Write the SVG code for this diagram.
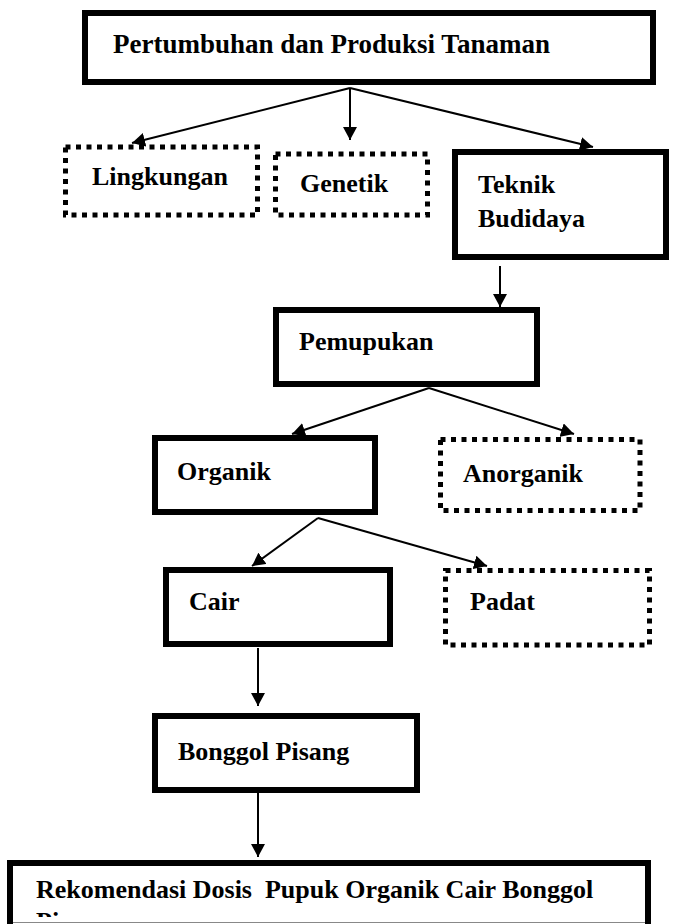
<svg xmlns="http://www.w3.org/2000/svg" width="676" height="924" viewBox="0 0 676 924">
<style>
.solid{fill:#fff;stroke:#000;stroke-width:6}
.dot{fill:#fff;stroke:#000;stroke-width:5;stroke-dasharray:5 5.5}
.t{font-family:"Liberation Serif","Times New Roman",serif;font-weight:bold;font-size:26px;fill:#000;white-space:pre}
.c{fill:none;stroke:#000;stroke-width:2}
</style>
<defs>
<marker id="ah" markerUnits="userSpaceOnUse" markerWidth="14" markerHeight="14" refX="13" refY="7" orient="auto">
<path d="M0,0 L13,7 L0,14 z" fill="#000"/>
</marker>
<clipPath id="clipBottom"><rect x="0" y="860" width="676" height="57"/></clipPath>
</defs>
<rect width="676" height="924" fill="#fff"/>
<g id="connectors">
<line class="c" x1="350" y1="88" x2="132" y2="143" marker-end="url(#ah)"/>
<line class="c" x1="350" y1="88" x2="350" y2="140" marker-end="url(#ah)"/>
<line class="c" x1="350" y1="88" x2="593" y2="147" marker-end="url(#ah)"/>
<line class="c" x1="500" y1="266" x2="500" y2="307" marker-end="url(#ah)"/>
<line class="c" x1="429" y1="388" x2="292" y2="434" marker-end="url(#ah)"/>
<line class="c" x1="429" y1="388" x2="574" y2="434" marker-end="url(#ah)"/>
<line class="c" x1="318" y1="518" x2="252" y2="566" marker-end="url(#ah)"/>
<line class="c" x1="318" y1="518" x2="487" y2="566" marker-end="url(#ah)"/>
<line class="c" x1="258" y1="648" x2="258" y2="706" marker-end="url(#ah)"/>
<line class="c" x1="258" y1="793" x2="258" y2="857" marker-end="url(#ah)"/>
</g>
<g id="node-pertumbuhan">
<rect class="solid" x="85" y="13" width="568" height="69"/>
<text class="t" x="113" y="53" style="font-size:27px">Pertumbuhan dan Produksi Tanaman</text>
</g>
<g id="node-lingkungan">
<rect class="dot" x="65.5" y="147" width="192" height="68"/>
<text class="t" x="92" y="185">Lingkungan</text>
</g>
<g id="node-genetik">
<rect class="dot" x="275.5" y="154" width="152" height="61"/>
<text class="t" x="300" y="192">Genetik</text>
</g>
<g id="node-teknik">
<rect class="solid" x="455" y="152" width="211" height="105"/>
<text class="t" x="478" y="193">Teknik</text>
<text class="t" x="478" y="227">Budidaya</text>
</g>
<g id="node-pemupukan">
<rect class="solid" x="276" y="310" width="261" height="74"/>
<text class="t" x="299" y="350">Pemupukan</text>
</g>
<g id="node-organik">
<rect class="solid" x="155" y="438" width="220" height="74"/>
<text class="t" x="177" y="480">Organik</text>
</g>
<g id="node-anorganik">
<rect class="dot" x="440.5" y="439.5" width="199.5" height="71"/>
<text class="t" x="463" y="482">Anorganik</text>
</g>
<g id="node-cair">
<rect class="solid" x="166" y="570" width="224" height="74"/>
<text class="t" x="189" y="610">Cair</text>
</g>
<g id="node-padat">
<rect class="dot" x="445.5" y="570.5" width="204" height="74.5"/>
<text class="t" x="470" y="610">Padat</text>
</g>
<g id="node-bonggol">
<rect class="solid" x="155" y="716" width="262" height="74"/>
<text class="t" x="178" y="760">Bonggol Pisang</text>
</g>
<g id="node-rekomendasi">
<rect class="solid" x="10" y="863" width="638" height="70"/>
<line x1="13" y1="922.5" x2="645" y2="922.5" stroke="#888" stroke-width="1"/>
<g clip-path="url(#clipBottom)">
<text class="t" x="36" y="898">Rekomendasi Dosis  Pupuk Organik Cair Bonggol</text>
<text class="t" x="36" y="930">Pisang</text>
</g>
</g>
</svg>
